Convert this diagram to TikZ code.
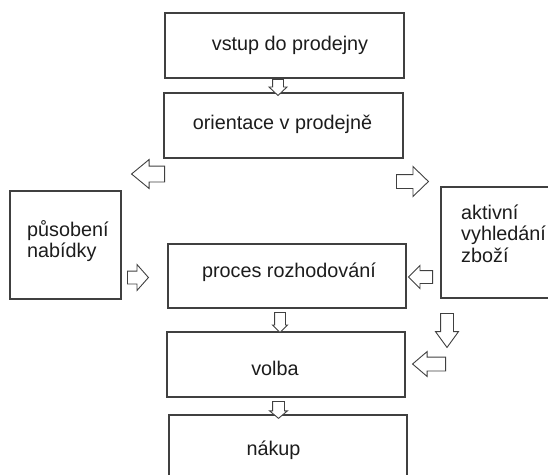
\documentclass[tikz,border=0pt]{standalone}
\usepackage{fontspec}
\setmainfont{Liberation Sans}
\usetikzlibrary{shapes.arrows}
\definecolor{RamGray}{RGB}{64,64,64}
\definecolor{InkGray}{RGB}{28,28,28}

\begin{document}
\begin{tikzpicture}[x=1pt, y=-1pt, every node/.style={inner sep=0pt},
    krok/.style={draw=RamGray, line width=1.2pt, minimum width=239pt, minimum height=65pt},
    popis/.style={font=\fontsize{19.8}{21.5}\selectfont, text=InkGray, align=left},
    sipka/.style n args={5}{single arrow, draw=RamGray, fill=white, line width=0.9pt,
      minimum width=0pt, anchor=tail, inner sep=#1, single arrow head extend=#2,
      single arrow tip angle=#3, minimum height=#4, shape border rotate=#5}]
  \useasboundingbox (0,0) rectangle (548,474);
  \clip (0,0) rectangle (548,474);
  % boxes
  \node[krok] (vstup) at (284.5,45.5) {};
  \node[krok] (orientace) at (283.5,125.5) {};
  \node[krok, minimum width=111pt, minimum height=108pt] (nabidka) at (65.5,245) {};
  \node[krok, minimum width=238pt, minimum height=64pt] (proces) at (287,276) {};
  \node[krok, minimum width=120pt, minimum height=111pt] (aktivni) at (501,242.5) {};
  \node[krok, minimum width=238pt] (volba) at (286,364.5) {};
  \node[krok, minimum width=238pt] (nakup) at (288,447.5) {};
  % texts (base = last line)
  \node[popis, anchor=base] (vstup-t) at (290,50) {vstup do prodejny};
  \node[popis, anchor=base] (orientace-t) at (282.5,129) {orientace v prodejně};
  \node[popis, anchor=base west] (nabidka-t) at (27,257.5) {působení\\nabídky};
  \node[popis, anchor=base] (proces-t) at (289,277) {proces rozhodování};
  \node[popis, anchor=base west] (aktivni-t) at (461,262) {aktivní\\vyhledání\\zboží};
  \node[popis, anchor=base] (volba-t) at (275,375) {volba};
  \node[popis, anchor=base] (nakup-t) at (273.5,455) {nákup};
  % block arrows
  \node[sipka={5pt}{3.5pt}{93}{14pt}{270}] (s1) at (278,79) {};
  \node[sipka={7.5pt}{6.5pt}{79}{33pt}{180}] (s2) at (165,174) {};
  \node[sipka={6.5pt}{8pt}{88}{32pt}{0}] (s3) at (396,181.5) {};
  \node[sipka={6pt}{6.5pt}{97}{21pt}{0}] (s4) at (127,277.5) {};
  \node[sipka={6pt}{5pt}{90}{24pt}{180}] (s5) at (433,277) {};
  \node[sipka={6pt}{5pt}{72}{34pt}{270}] (s6) at (447,313) {};
  \node[sipka={6.5pt}{5.5pt}{81}{33pt}{180}] (s7) at (446,364) {};
  \node[sipka={5pt}{2pt}{90}{20pt}{270}] (s8) at (280,312) {};
  \node[sipka={5.5pt}{3pt}{100}{11pt}{270}] (s9) at (278.5,401) {};
\end{tikzpicture}
\end{document}
